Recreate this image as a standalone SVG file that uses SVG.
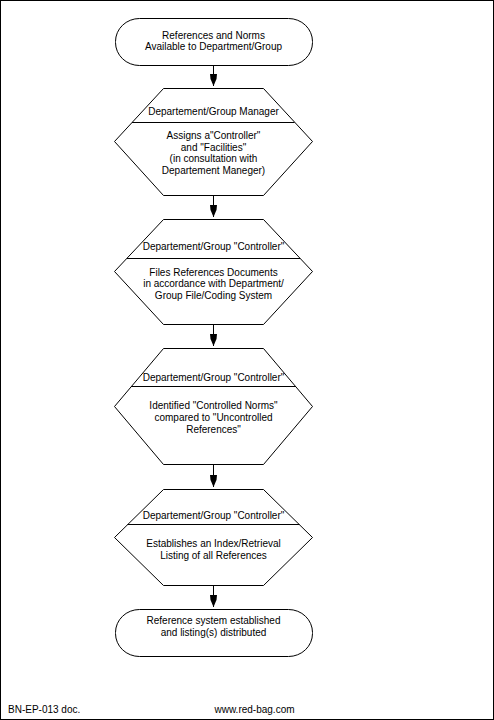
<svg xmlns="http://www.w3.org/2000/svg" xmlns:xlink="http://www.w3.org/1999/xlink" width="494" height="720" viewBox="0 0 494 720">
<style>
.shape{fill:#fff;stroke:#000;stroke-width:1}
.div{stroke:#000;stroke-width:1}
.conn{stroke:#000;stroke-width:1;fill:none}
text{font-family:"Liberation Sans",Arial,sans-serif;font-size:10px;fill:#000}
.c{text-anchor:middle}
</style>
<defs>
<path id="ah" d="M-3.5,0 L3.5,0 L3,5 L0,12 L-3,5 Z" fill="#000"/>
</defs>
<rect x="0" y="0" width="494" height="720" fill="#fff"/>
<rect x="0.5" y="0.5" width="493" height="719" fill="none" stroke="#000" stroke-width="1"/>
<g id="connectors">
<line class="conn" x1="213.5" y1="65" x2="213.5" y2="86"/><use xlink:href="#ah" x="213.5" y="74"/>
<line class="conn" x1="213.5" y1="195" x2="213.5" y2="217"/><use xlink:href="#ah" x="213.5" y="205"/>
<line class="conn" x1="213.5" y1="324" x2="213.5" y2="346"/><use xlink:href="#ah" x="213.5" y="334"/>
<line class="conn" x1="213.5" y1="464" x2="213.5" y2="487"/><use xlink:href="#ah" x="213.5" y="475"/>
<line class="conn" x1="213.5" y1="585" x2="213.5" y2="607"/><use xlink:href="#ah" x="213.5" y="595"/>
</g>
<g id="start">
<rect class="shape" x="115.5" y="18.5" width="197" height="47" rx="24" ry="23"/>
<text class="c" x="213.5" y="38.5">References and Norms</text>
<text class="c" x="213.5" y="50">Available to Department/Group</text>
</g>
<g id="step1">
<polygon class="shape" points="163.5,88.5 263.5,88.5 312.5,141.5 263.5,195.5 163.5,195.5 114.5,141.5"/>
<line class="div" x1="132" y1="122.5" x2="294.5" y2="122.5"/>
<text class="c" x="213.5" y="115">Departement/Group Manager</text>
<text class="c" x="213.5" y="138.5">Assigns a"Controller"</text>
<text class="c" x="213.5" y="150.5">and "Facilities"</text>
<text class="c" x="213.5" y="162">(in consultation with</text>
<text class="c" x="213.5" y="173.5">Departement Maneger)</text>
</g>
<g id="step2">
<polygon class="shape" points="163.5,219.5 263.5,219.5 312.5,271.5 263.5,324.5 163.5,324.5 114.5,271.5"/>
<line class="div" x1="127" y1="258.5" x2="300" y2="258.5"/>
<text class="c" x="213.5" y="250">Departement/Group "Controller"</text>
<text class="c" x="213.5" y="275.5">Files References Documents</text>
<text class="c" x="213.5" y="287">in accordance with Department/</text>
<text class="c" x="213.5" y="298.5">Group File/Coding System</text>
</g>
<g id="step3">
<polygon class="shape" points="163.5,348.5 263.5,348.5 312.5,406.5 263.5,464.5 163.5,464.5 114.5,406.5"/>
<line class="div" x1="131" y1="386.5" x2="296" y2="386.5"/>
<text class="c" x="213.5" y="381">Departement/Group "Controller"</text>
<text class="c" x="213.5" y="409">Identified "Controlled Norms"</text>
<text class="c" x="213.5" y="421">compared to "Uncontrolled</text>
<text class="c" x="213.5" y="433">References"</text>
</g>
<g id="step4">
<polygon class="shape" points="163.5,489.5 263.5,489.5 312.5,537.5 263.5,585.5 163.5,585.5 114.5,537.5"/>
<line class="div" x1="127.5" y1="524.5" x2="299.5" y2="524.5"/>
<text class="c" x="213.5" y="519">Departement/Group "Controller"</text>
<text class="c" x="213.5" y="547">Establishes an Index/Retrieval</text>
<text class="c" x="213.5" y="559">Listing of all References</text>
</g>
<g id="end">
<rect class="shape" x="115.5" y="609.5" width="197" height="47" rx="24" ry="23"/>
<text class="c" x="213.5" y="624">Reference system established</text>
<text class="c" x="213.5" y="636">and listing(s) distributed</text>
</g>
<g id="footer">
<text x="8" y="713">BN-EP-013 doc.</text>
<text x="214.5" y="713">www.red-bag.com</text>
</g>
</svg>
